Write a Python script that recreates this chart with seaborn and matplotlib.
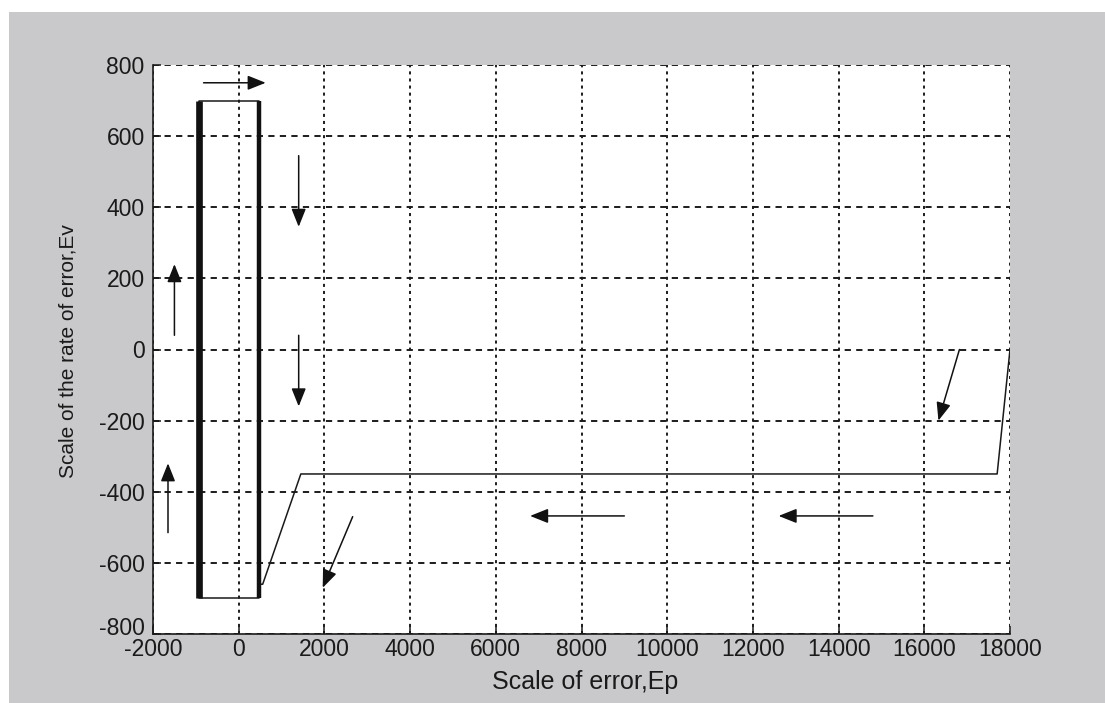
import numpy as np
import pandas as pd
import matplotlib
matplotlib.use("Agg")
import matplotlib.pyplot as plt
from matplotlib.patches import Rectangle
import matplotlib.transforms as mtransforms
import seaborn as sns

# ---------------- data ----------------
x_ticks = [-2000, 0, 2000, 4000, 6000, 8000, 10000, 12000, 14000, 16000, 18000]
y_ticks = [-800, -600, -400, -200, 0, 200, 400, 600, 800]

# approach trajectory (from the start point into the switching box)
traj_x = [18000, 17700, 1450, 560, 480]
traj_y = [0, -350, -350, -660, -660]

# sliding box the trajectory circulates on
box_x = [480, 480, -920, -920, 480, 480]
box_y = [-660, -700, -700, 700, 700, -660]
box_left_x = [-920, -920]
box_left_y = [-700, 700]
box_right_x = [480, 480]
box_right_y = [-700, 700]

# direction arrows: tail (x, y) -> head (x, y)
arrow_tail_x = [-820, 1400, 1400, -1500, -1650, 2660, 9000, 14800, 16820]
arrow_tail_y = [750, 545, 40, 40, -515, -470, -468, -468, 0]
arrow_head_x = [630, 1400, 1400, -1500, -1650, 1960, 6800, 12600, 16330]
arrow_head_y = [750, 345, -160, 240, -320, -670, -468, -468, -200]

x_label = "Scale of error,Ep"
y_label = "Scale of the rate of error,Ev"

# ---------------- style ----------------
sns.set_theme(style="white")
plt.rcParams["font.family"] = ["Liberation Sans", "DejaVu Sans"]
plt.rcParams["lines.scale_dashes"] = False

fig = plt.figure(figsize=(11.05, 7.03), dpi=100, facecolor="white")
# scanned-paper grey background
fig.patches.append(Rectangle((9 / 1105, 0), 1, 1 - 12 / 703, transform=fig.transFigure,
                             facecolor="#c9c9cc", edgecolor="none", zorder=-10))

ax = fig.add_axes([153 / 1105, 1 - 634 / 703, (1010 - 153) / 1105, (634 - 65) / 703])
ax.set_facecolor("white")

traj_df = pd.DataFrame({"x": traj_x, "y": traj_y})
box_df = pd.DataFrame({"x": box_x, "y": box_y})

sns.lineplot(data=traj_df, x="x", y="y", sort=False, estimator=None,
             color="#1a1a1a", linewidth=1.1, ax=ax, zorder=5)
sns.lineplot(data=box_df, x="x", y="y", sort=False, estimator=None,
             color="#1a1a1a", linewidth=1.1, ax=ax, zorder=5)
sns.lineplot(x=box_left_x, y=box_left_y, sort=False, estimator=None,
             color="#111111", linewidth=4.8, solid_capstyle="butt", ax=ax, zorder=6)
sns.lineplot(x=box_right_x, y=box_right_y, sort=False, estimator=None,
             color="#111111", linewidth=3.2, solid_capstyle="butt", ax=ax, zorder=6)

for tx, ty, hx, hy in zip(arrow_tail_x, arrow_tail_y, arrow_head_x, arrow_head_y):
    ax.annotate("", xy=(hx, hy), xytext=(tx, ty),
                arrowprops=dict(arrowstyle="-|>,head_length=0.55,head_width=0.22",
                                mutation_scale=20, color="#111111", lw=1.1,
                                shrinkA=0, shrinkB=0), zorder=7)

ax.set_xlim(-2000, 18000)
ax.set_ylim(-800, 800)
ax.set_xticks(x_ticks)
ax.set_yticks(y_ticks)
ax.set_xticklabels([str(v) for v in x_ticks])
ax.set_yticklabels([str(v) for v in y_ticks])

# grid: vertical dotted, horizontal dashed
ax.xaxis.grid(True, color="#1c1c1c", linewidth=1.4, linestyle=(0, (2.2, 2.9)))
ax.yaxis.grid(True, color="#1c1c1c", linewidth=1.4, linestyle=(0, (4.5, 3.8)))
ax.set_axisbelow(True)

for side in ["top", "right"]:
    ax.spines[side].set_visible(False)
for side in ["left", "bottom"]:
    ax.spines[side].set_visible(True)
    ax.spines[side].set_color("#1a1a1a")
    ax.spines[side].set_linewidth(1.2)

ax.tick_params(axis="both", direction="in", length=6, width=1.1, color="#1a1a1a",
               labelcolor="#1a1a1a")
ax.tick_params(axis="x", pad=3, labelsize=16.5)
ax.tick_params(axis="y", pad=6, labelsize=16.5)
ax.tick_params(left=True, bottom=True)

# lift the bottom y label a little, as in the reference, so it clears "-2000"
ylabels = ax.get_yticklabels()
ylabels[0].set_transform(ylabels[0].get_transform() +
                         mtransforms.ScaledTranslation(0, 6 / 72, fig.dpi_scale_trans))

ax.set_xlabel("")
ax.set_ylabel("")
fig.text(585 / 1105, 1 - 682 / 703, x_label, ha="center", va="center",
         fontsize=18, color="#1a1a1a")
fig.text(68 / 1105, 1 - 351 / 703, y_label, ha="center", va="center",
         rotation=90, fontsize=15, color="#1a1a1a")

fig.savefig("out.png", dpi=100, facecolor=fig.get_facecolor())
